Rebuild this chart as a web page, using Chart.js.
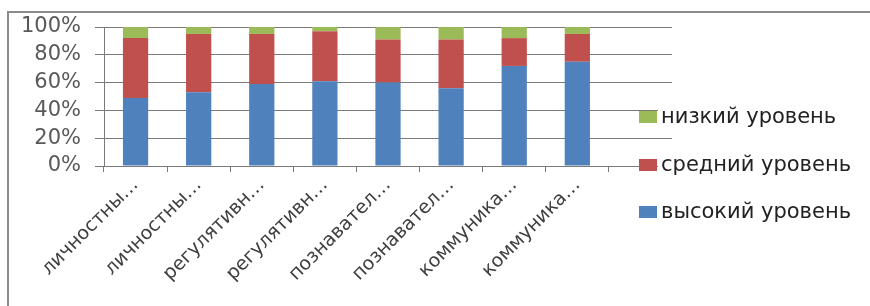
<!DOCTYPE html>
<html>
<head>
<meta charset="utf-8">
<script src="https://cdn.jsdelivr.net/npm/chart.js@4/dist/chart.umd.min.js"></script>
<style>
  html, body { margin: 0; padding: 0; background: #fff; }
  #wrap { position: relative; width: 870px; height: 306px; overflow: hidden; }
  #frame { position: absolute; left: 7px; top: 11px; width: 900px; height: 400px;
           border-left: 2px solid #8c8c8c; border-top: 2px solid #8c8c8c; pointer-events: none; }
  canvas { position: absolute; left: 0; top: 0; }
</style>
</head>
<body>
<div id="wrap">
  <canvas id="chart" width="870" height="306"></canvas>
  <div id="frame"></div>
</div>
<script>
const categories = ['личностны…', 'личностны…', 'регулятивн…', 'регулятивн…',
                    'познавател…', 'познавател…', 'коммуника…', 'коммуника…'];
const high = [49, 53, 59, 61, 60, 56, 72, 75];
const mid  = [43, 42, 36, 36, 31, 35, 20, 20];
const low  = [8, 5, 5, 3, 9, 9, 8, 5];
const yTicks = [0, 20, 40, 60, 80, 100];

const FONT = 'DejaVu Sans';

// the plot area in the picture runs on under the legend, one empty slot wide
const labels = [...categories, ''];

// legend drawn over the right end of the plot, like the original
const overlayLegend = {
  id: 'overlayLegend',
  afterDraw(chart) {
    const ctx = chart.ctx;
    const items = chart.data.datasets.slice().reverse();
    const rowY = [117, 165, 212];
    ctx.save();
    ctx.font = '21px "' + FONT + '"';
    ctx.textBaseline = 'middle';
    items.forEach((ds, i) => {
      const y = rowY[i];
      const w = ctx.measureText(ds.label).width;
      ctx.fillStyle = '#fff';
      ctx.fillRect(658, y - 10, w + 6, 20);
      ctx.fillStyle = ds.backgroundColor;
      ctx.fillRect(639, y - 6, 18, 12);
      ctx.fillStyle = '#222';
      ctx.fillText(ds.label, 661, y + 1);
    });
    ctx.restore();
  }
};

new Chart(document.getElementById('chart').getContext('2d'), {
  type: 'bar',
  data: {
    labels: labels,
    datasets: [
      { label: 'высокий уровень', data: high, backgroundColor: '#4f81bd' },
      { label: 'средний уровень', data: mid, backgroundColor: '#c0504d' },
      { label: 'низкий уровень', data: low, backgroundColor: '#9bbb59' }
    ]
  },
  options: {
    responsive: false,
    animation: false,
    devicePixelRatio: 1,
    layout: { padding: { top: 27, right: 198, left: 0, bottom: 0 } },
    datasets: { bar: { categoryPercentage: 1, barPercentage: 0.4 } },
    plugins: { legend: { display: false }, tooltip: { enabled: false } },
    scales: {
      x: {
        stacked: true,
        grid: { drawOnChartArea: false, drawTicks: true, tickLength: 6, color: '#7a7a7a' },
        border: { color: '#7a7a7a' },
        ticks: { minRotation: 45, maxRotation: 45, autoSkip: false, padding: 2,
                 color: '#404040', font: { family: FONT, size: 19 } },
        afterFit: (s) => { s.height = 140; }
      },
      y: {
        stacked: true,
        min: 0, max: 100,
        afterBuildTicks: (s) => { s.ticks = yTicks.map(v => ({ value: v })); },
        grid: { color: '#7a7a7a', tickLength: 9 },
        border: { color: '#7a7a7a' },
        ticks: { autoSkip: false, padding: 14, color: '#595959', font: { family: FONT, size: 21 },
                 callback: (v) => v + '%' },
        afterFit: (s) => { s.width = 104; }
      }
    }
  },
  plugins: [overlayLegend]
});
</script>
</body>
</html>
